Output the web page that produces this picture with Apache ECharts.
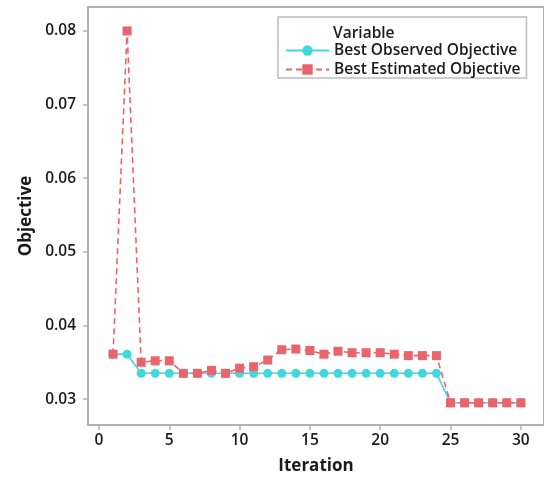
<!DOCTYPE html>
<html>
<head>
<meta charset="utf-8">
<script src="https://cdn.jsdelivr.net/npm/echarts@6/dist/echarts.min.js"></script>
<style>html,body{margin:0;padding:0;background:#fff;}#c{width:544px;height:480px;}</style>
</head>
<body>
<div id="c"></div>
<script>
const iterations = [1,2,3,4,5,6,7,8,9,10,11,12,13,14,15,16,17,18,19,20,21,22,23,24,25,26,27,28,29,30];
const bestObserved = [0.0361,0.0361,0.0335,0.0335,0.0335,0.0335,0.0335,0.0335,0.0335,0.0335,0.0335,0.0335,0.0335,0.0335,0.0335,0.0335,0.0335,0.0335,0.0335,0.0335,0.0335,0.0335,0.0335,0.0335,0.0295,0.0295,0.0295,0.0295,0.0295,0.0295];
const bestEstimated = [0.0361,0.0800,0.0350,0.0352,0.0352,0.0335,0.0335,0.0339,0.0335,0.0342,0.0344,0.0353,0.0367,0.0368,0.0366,0.0361,0.0365,0.0363,0.0363,0.0363,0.0361,0.0359,0.0359,0.0359,0.0295,0.0295,0.0295,0.0295,0.0295,0.0295];
const xTicks = [0,5,10,15,20,25,30];
const yTicks = [0.03,0.04,0.05,0.06,0.07,0.08];
const seriesNames = ['Best Observed Objective','Best Estimated Objective'];

const FONT = '"Open Sans", "Noto Sans", sans-serif';
const chart = echarts.init(document.getElementById('c'), null, {renderer:'canvas'});
const axisGray = '#b3b3b3';
chart.setOption({
  animation: false,
  backgroundColor: '#fff',
  title: {
    text: 'Variable', left: 328, top: 21,
    textStyle: {fontFamily: FONT, fontSize: 15.5, fontWeight: 600, color: '#1a1a1a'}
  },
  legend: {
    orient: 'vertical', left: 278, top: 17,
    padding: [25, 6, 0, 7],
    itemGap: 2, itemWidth: 43, itemHeight: 13,
    borderColor: '#bdbdbd', borderWidth: 1.5,
    textStyle: {fontFamily: FONT, fontSize: 15.5, fontWeight: 600, color: '#1a1a1a', lineHeight: 17},
    data: seriesNames
  },
  grid: {left: 88, top: 7, right: -4, bottom: 54, show: true, borderColor: axisGray, borderWidth: 2},
  xAxis: {
    type: 'value', min: -0.78, max: 31.65,
    name: 'Iteration', nameLocation: 'middle', nameGap: 33,
    nameTextStyle: {fontFamily: FONT, fontSize: 17, fontWeight: 'bold', color: '#1a1a1a'},
    axisLine: {show: true, onZero: false, lineStyle: {color: axisGray, width: 2}},
    axisTick: {show: true, customValues: xTicks, length: 5, lineStyle: {color: axisGray, width: 1.5}},
    axisLabel: {customValues: xTicks, fontFamily: FONT, fontSize: 15.5, fontWeight: 600, color: '#1a1a1a', margin: 8},
    splitLine: {show: false}
  },
  yAxis: {
    type: 'value', min: 0.02648, max: 0.08325,
    name: 'Objective', nameLocation: 'middle', nameGap: 51,
    nameTextStyle: {fontFamily: FONT, fontSize: 17, fontWeight: 'bold', color: '#1a1a1a'},
    axisLine: {show: true, onZero: false, lineStyle: {color: axisGray, width: 2}},
    axisTick: {show: true, customValues: yTicks, length: 5, lineStyle: {color: axisGray, width: 1.5}},
    axisLabel: {customValues: yTicks, fontFamily: FONT, fontSize: 15.5, fontWeight: 600, color: '#1a1a1a', margin: 12,
      formatter: v => v.toFixed(2)},
    splitLine: {show: false}
  },
  series: [
    {
      name: seriesNames[0], type: 'line',
      data: iterations.map((x, i) => [x, bestObserved[i]]),
      symbol: 'circle', symbolSize: 9,
      itemStyle: {color: '#3fd8dc'},
      lineStyle: {color: '#3fd8dc', width: 1.6},
      z: 2
    },
    {
      name: seriesNames[1], type: 'line',
      data: iterations.map((x, i) => [x, bestEstimated[i]]),
      symbol: 'rect', symbolSize: 9,
      itemStyle: {color: '#e9646b'},
      lineStyle: {color: '#e9646b', width: 1.6, type: [6, 4]},
      z: 3
    }
  ]
});
</script>
</body>
</html>
